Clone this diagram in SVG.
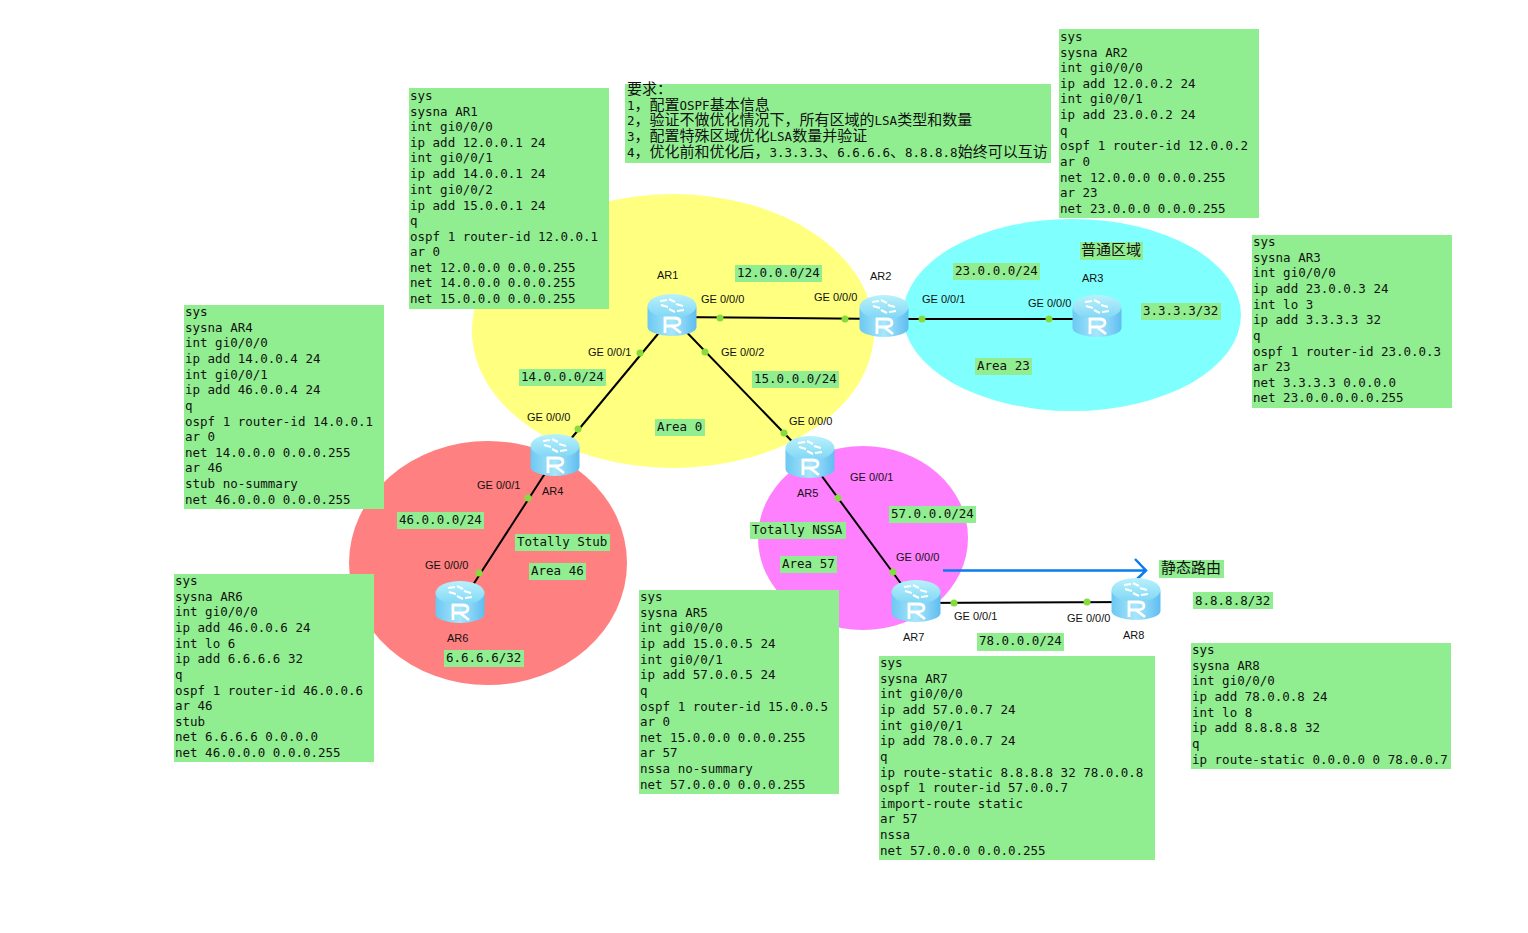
<svg xmlns="http://www.w3.org/2000/svg" width="1528" height="933" viewBox="0 0 1528 933">
<style>
.box{fill:#90ee90}
.mono{font-family:"DejaVu Sans Mono","Liberation Mono","Noto Sans CJK SC",monospace;font-size:12.5px;fill:#111}
.cjk{font-family:"DejaVu Sans Mono","Noto Sans CJK SC",monospace;font-size:15px;fill:#111}
.sm{font-size:12.5px}
.lbl{font-family:"Liberation Sans",Arial,sans-serif;font-size:11px;fill:#111}
.link{stroke:#000;stroke-width:2;fill:none}
.dot{fill:#86dc3c}
</style>
<defs>
<linearGradient id="side" x1="0" x2="1" y1="0" y2="0"><stop offset="0" stop-color="#6cc8f2"/><stop offset=".5" stop-color="#a8e6fb"/><stop offset="1" stop-color="#5fbdf0"/></linearGradient>
<linearGradient id="top" x1="0" x2="0" y1="0" y2="1"><stop offset="0" stop-color="#b9f1fc"/><stop offset="1" stop-color="#7fd6f5"/></linearGradient>
<g id="router">
<path d="M-24.500-8V12A24.500 9 0 0 0 24.500 12V-8Z" fill="url(#side)"/>
<ellipse cx="0" cy="-9" rx="24.500" ry="12" fill="url(#top)"/>
<path d="M-11-10L-4-8M-3-16L3-13M11-9L4-11M3-3L-3-6M-12-14L-5-15M12-5L5-4" stroke="#fff" stroke-width="2" fill="none"/>
<path d="M-7 18V3H2Q8 3 8 7Q8 11 0 11L9 18M-7 11H0" stroke="#fff" stroke-width="2.800" fill="none"/>
</g>
</defs>
<rect width="1528" height="933" fill="#fff"/>
<g id="areas">
<ellipse cx="673" cy="331" rx="201" ry="137" fill="#ffff80"/>
<ellipse cx="1072" cy="315" rx="169" ry="96" fill="#80ffff"/>
<ellipse cx="488" cy="563" rx="139" ry="122" fill="#ff8080"/>
<ellipse cx="863" cy="538" rx="105" ry="92" fill="#ff80ff"/>
</g>
<g id="connectors">
<path class="link" d="M672 317L884 319"/>
<path class="link" d="M884 319H1097"/>
<path class="link" d="M672 317L555 458"/>
<path class="link" d="M672 317L810 460"/>
<path class="link" d="M555 458L460 605"/>
<path class="link" d="M810 460L916 604"/>
<path class="link" d="M916 603L1136 602"/>
<circle class="dot" cx="720" cy="318" r="3.500"/><circle class="dot" cx="845" cy="319" r="3.500"/>
<circle class="dot" cx="922" cy="319" r="3.500"/><circle class="dot" cx="1049" cy="319" r="3.500"/>
<circle class="dot" cx="640" cy="353" r="3.500"/><circle class="dot" cx="578" cy="429" r="3.500"/>
<circle class="dot" cx="705" cy="352" r="3.500"/><circle class="dot" cx="784" cy="433" r="3.500"/>
<circle class="dot" cx="528" cy="498" r="3.500"/><circle class="dot" cx="479" cy="573" r="3.500"/>
<circle class="dot" cx="838" cy="498" r="3.500"/><circle class="dot" cx="893" cy="572" r="3.500"/>
<circle class="dot" cx="954" cy="603" r="3.500"/><circle class="dot" cx="1087" cy="602" r="3.500"/>
<path d="M943 570.500H1145M1135 559L1146 570.500L1135 581" stroke="#0a7cf0" stroke-width="2.500" fill="none"/>
</g>
<g id="AR1"><use href="#router" x="672" y="315"/><text class="lbl" x="657" y="279">AR1</text></g>
<g id="AR2"><use href="#router" x="884" y="316"/><text class="lbl" x="870" y="280">AR2</text></g>
<g id="AR3"><use href="#router" x="1097" y="316"/><text class="lbl" x="1082" y="282">AR3</text></g>
<g id="AR4"><use href="#router" x="555" y="455"/><text class="lbl" x="542" y="495">AR4</text></g>
<g id="AR5"><use href="#router" x="810" y="457"/><text class="lbl" x="797" y="497">AR5</text></g>
<g id="AR6"><use href="#router" x="460" y="602"/><text class="lbl" x="447" y="642">AR6</text></g>
<g id="AR7"><use href="#router" x="916" y="601"/><text class="lbl" x="903" y="641">AR7</text></g>
<g id="AR8"><use href="#router" x="1136" y="599"/><text class="lbl" x="1123" y="639">AR8</text></g>
<g id="ports">
<text class="lbl" x="701" y="303">GE 0/0/0</text><text class="lbl" x="814" y="301">GE 0/0/0</text>
<text class="lbl" x="922" y="303">GE 0/0/1</text><text class="lbl" x="1028" y="307">GE 0/0/0</text>
<text class="lbl" x="588" y="356">GE 0/0/1</text><text class="lbl" x="721" y="356">GE 0/0/2</text>
<text class="lbl" x="527" y="421">GE 0/0/0</text><text class="lbl" x="789" y="425">GE 0/0/0</text>
<text class="lbl" x="477" y="489">GE 0/0/1</text><text class="lbl" x="850" y="481">GE 0/0/1</text>
<text class="lbl" x="425" y="569">GE 0/0/0</text><text class="lbl" x="896" y="561">GE 0/0/0</text>
<text class="lbl" x="954" y="620">GE 0/0/1</text><text class="lbl" x="1067" y="622">GE 0/0/0</text>
</g>
<g id="labels">
<rect class="box" x="735" y="265" width="87" height="17"/><text class="mono" x="737" y="277">12.0.0.0/24</text>
<rect class="box" x="953" y="263" width="87" height="17"/><text class="mono" x="955" y="275">23.0.0.0/24</text>
<rect class="box" x="1141" y="303" width="80" height="17"/><text class="mono" x="1143" y="315">3.3.3.3/32</text>
<rect class="box" x="519" y="369" width="87" height="17"/><text class="mono" x="521" y="381">14.0.0.0/24</text>
<rect class="box" x="752" y="371" width="87" height="17"/><text class="mono" x="754" y="383">15.0.0.0/24</text>
<rect class="box" x="975" y="358" width="57" height="17"/><text class="mono" x="977" y="370">Area 23</text>
<rect class="box" x="655" y="419" width="50" height="17"/><text class="mono" x="657" y="431">Area 0</text>
<rect class="box" x="397" y="512" width="87" height="17"/><text class="mono" x="399" y="524">46.0.0.0/24</text>
<rect class="box" x="515" y="534" width="95" height="17"/><text class="mono" x="517" y="546">Totally Stub</text>
<rect class="box" x="529" y="563" width="57" height="17"/><text class="mono" x="531" y="575">Area 46</text>
<rect class="box" x="444" y="650" width="80" height="17"/><text class="mono" x="446" y="662">6.6.6.6/32</text>
<rect class="box" x="750" y="522" width="96" height="17"/><text class="mono" x="752" y="534">Totally NSSA</text>
<rect class="box" x="889" y="506" width="87" height="17"/><text class="mono" x="891" y="518">57.0.0.0/24</text>
<rect class="box" x="780" y="556" width="57" height="17"/><text class="mono" x="782" y="568">Area 57</text>
<rect class="box" x="977" y="633" width="87" height="18"/><text class="mono" x="979" y="645">78.0.0.0/24</text>
<rect class="box" x="1193" y="592" width="80" height="17"/><text class="mono" x="1195" y="605">8.8.8.8/32</text>
<rect class="box" x="1159" y="560" width="65" height="18"/><text class="cjk" x="1161" y="573">静态路由</text>
<rect class="box" x="1080" y="242" width="63" height="18"/><text class="cjk" x="1081" y="255">普通区域</text>
</g>
<g id="requirements">
<rect class="box" x="625" y="84" width="426" height="79"/>
<text class="cjk"><tspan x="627" y="94">要求：</tspan><tspan x="627" y="110"><tspan class="sm">1</tspan>，配置<tspan class="sm">OSPF</tspan>基本信息</tspan><tspan x="627" y="125"><tspan class="sm">2</tspan>，验证不做优化情况下，所有区域的<tspan class="sm">LSA</tspan>类型和数量</tspan><tspan x="627" y="141"><tspan class="sm">3</tspan>，配置特殊区域优化<tspan class="sm">LSA</tspan>数量并验证</tspan><tspan x="627" y="157"><tspan class="sm">4</tspan>，优化前和优化后，<tspan class="sm">3.3.3.3</tspan>、<tspan class="sm">6.6.6.6</tspan>、<tspan class="sm">8.8.8.8</tspan>始终可以互访</tspan></text>
</g>
<g id="cfg-AR1"><rect class="box" x="409" y="88" width="200" height="221"/>
<text class="mono"><tspan x="410" y="100">sys</tspan><tspan x="410" y="116">sysna AR1</tspan><tspan x="410" y="131">int gi0/0/0</tspan><tspan x="410" y="147">ip add 12.0.0.1 24</tspan><tspan x="410" y="162">int gi0/0/1</tspan><tspan x="410" y="178">ip add 14.0.0.1 24</tspan><tspan x="410" y="194">int gi0/0/2</tspan><tspan x="410" y="210">ip add 15.0.0.1 24</tspan><tspan x="410" y="225">q</tspan><tspan x="410" y="241">ospf 1 router-id 12.0.0.1</tspan><tspan x="410" y="256">ar 0</tspan><tspan x="410" y="272">net 12.0.0.0 0.0.0.255</tspan><tspan x="410" y="287">net 14.0.0.0 0.0.0.255</tspan><tspan x="410" y="303">net 15.0.0.0 0.0.0.255</tspan></text></g>
<g id="cfg-AR2"><rect class="box" x="1059" y="29" width="200" height="189"/>
<text class="mono"><tspan x="1060" y="41">sys</tspan><tspan x="1060" y="57">sysna AR2</tspan><tspan x="1060" y="72">int gi0/0/0</tspan><tspan x="1060" y="88">ip add 12.0.0.2 24</tspan><tspan x="1060" y="103">int gi0/0/1</tspan><tspan x="1060" y="119">ip add 23.0.0.2 24</tspan><tspan x="1060" y="135">q</tspan><tspan x="1060" y="150">ospf 1 router-id 12.0.0.2</tspan><tspan x="1060" y="166">ar 0</tspan><tspan x="1060" y="182">net 12.0.0.0 0.0.0.255</tspan><tspan x="1060" y="197">ar 23</tspan><tspan x="1060" y="213">net 23.0.0.0 0.0.0.255</tspan></text></g>
<g id="cfg-AR3"><rect class="box" x="1252" y="235" width="200" height="173"/>
<text class="mono"><tspan x="1253" y="246">sys</tspan><tspan x="1253" y="262">sysna AR3</tspan><tspan x="1253" y="277">int gi0/0/0</tspan><tspan x="1253" y="293">ip add 23.0.0.3 24</tspan><tspan x="1253" y="309">int lo 3</tspan><tspan x="1253" y="324">ip add 3.3.3.3 32</tspan><tspan x="1253" y="340">q</tspan><tspan x="1253" y="356">ospf 1 router-id 23.0.0.3</tspan><tspan x="1253" y="371">ar 23</tspan><tspan x="1253" y="387">net 3.3.3.3 0.0.0.0</tspan><tspan x="1253" y="402">net 23.0.0.0.0.0.255</tspan></text></g>
<g id="cfg-AR4"><rect class="box" x="184" y="305" width="200" height="204"/>
<text class="mono"><tspan x="185" y="316">sys</tspan><tspan x="185" y="332">sysna AR4</tspan><tspan x="185" y="347">int gi0/0/0</tspan><tspan x="185" y="363">ip add 14.0.0.4 24</tspan><tspan x="185" y="379">int gi0/0/1</tspan><tspan x="185" y="394">ip add 46.0.0.4 24</tspan><tspan x="185" y="410">q</tspan><tspan x="185" y="426">ospf 1 router-id 14.0.0.1</tspan><tspan x="185" y="441">ar 0</tspan><tspan x="185" y="457">net 14.0.0.0 0.0.0.255</tspan><tspan x="185" y="472">ar 46</tspan><tspan x="185" y="488">stub no-summary</tspan><tspan x="185" y="504">net 46.0.0.0 0.0.0.255</tspan></text></g>
<g id="cfg-AR6"><rect class="box" x="174" y="574" width="200" height="188"/>
<text class="mono"><tspan x="175" y="585">sys</tspan><tspan x="175" y="601">sysna AR6</tspan><tspan x="175" y="616">int gi0/0/0</tspan><tspan x="175" y="632">ip add 46.0.0.6 24</tspan><tspan x="175" y="648">int lo 6</tspan><tspan x="175" y="663">ip add 6.6.6.6 32</tspan><tspan x="175" y="679">q</tspan><tspan x="175" y="695">ospf 1 router-id 46.0.0.6</tspan><tspan x="175" y="710">ar 46</tspan><tspan x="175" y="726">stub</tspan><tspan x="175" y="741">net 6.6.6.6 0.0.0.0</tspan><tspan x="175" y="757">net 46.0.0.0 0.0.0.255</tspan></text></g>
<g id="cfg-AR5"><rect class="box" x="639" y="590" width="200" height="204"/>
<text class="mono"><tspan x="640" y="601">sys</tspan><tspan x="640" y="617">sysna AR5</tspan><tspan x="640" y="632">int gi0/0/0</tspan><tspan x="640" y="648">ip add 15.0.0.5 24</tspan><tspan x="640" y="664">int gi0/0/1</tspan><tspan x="640" y="679">ip add 57.0.0.5 24</tspan><tspan x="640" y="695">q</tspan><tspan x="640" y="711">ospf 1 router-id 15.0.0.5</tspan><tspan x="640" y="726">ar 0</tspan><tspan x="640" y="742">net 15.0.0.0 0.0.0.255</tspan><tspan x="640" y="757">ar 57</tspan><tspan x="640" y="773">nssa no-summary</tspan><tspan x="640" y="789">net 57.0.0.0 0.0.0.255</tspan></text></g>
<g id="cfg-AR7"><rect class="box" x="879" y="656" width="276" height="204"/>
<text class="mono"><tspan x="880" y="667">sys</tspan><tspan x="880" y="683">sysna AR7</tspan><tspan x="880" y="698">int gi0/0/0</tspan><tspan x="880" y="714">ip add 57.0.0.7 24</tspan><tspan x="880" y="730">int gi0/0/1</tspan><tspan x="880" y="745">ip add 78.0.0.7 24</tspan><tspan x="880" y="761">q</tspan><tspan x="880" y="777">ip route-static 8.8.8.8 32 78.0.0.8</tspan><tspan x="880" y="792">ospf 1 router-id 57.0.0.7</tspan><tspan x="880" y="808">import-route static</tspan><tspan x="880" y="823">ar 57</tspan><tspan x="880" y="839">nssa</tspan><tspan x="880" y="855">net 57.0.0.0 0.0.0.255</tspan></text></g>
<g id="cfg-AR8"><rect class="box" x="1191" y="643" width="260" height="126"/>
<text class="mono"><tspan x="1192" y="654">sys</tspan><tspan x="1192" y="670">sysna AR8</tspan><tspan x="1192" y="685">int gi0/0/0</tspan><tspan x="1192" y="701">ip add 78.0.0.8 24</tspan><tspan x="1192" y="717">int lo 8</tspan><tspan x="1192" y="732">ip add 8.8.8.8 32</tspan><tspan x="1192" y="748">q</tspan><tspan x="1192" y="764">ip route-static 0.0.0.0 0 78.0.0.7</tspan></text></g>
</svg>
